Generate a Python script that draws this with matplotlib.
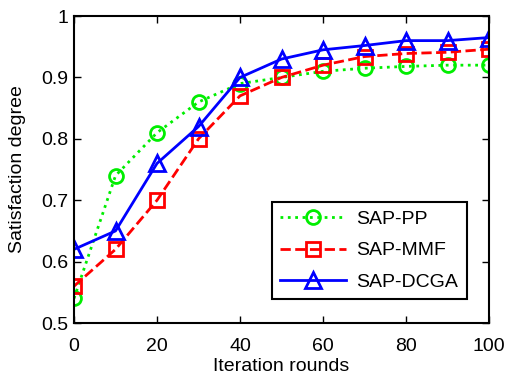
import matplotlib
matplotlib.use("Agg")
import matplotlib.pyplot as plt

plt.rcParams['font.family'] = ['Liberation Sans', 'DejaVu Sans']

rounds = [0, 10, 20, 30, 40, 50, 60, 70, 80, 90, 100]
sap_pp = [0.54, 0.74, 0.81, 0.86, 0.89, 0.90, 0.91, 0.915, 0.918, 0.92, 0.92]
sap_mmf = [0.56, 0.62, 0.70, 0.80, 0.87, 0.90, 0.92, 0.934, 0.939, 0.941, 0.946]
sap_dcga = [0.62, 0.65, 0.76, 0.82, 0.90, 0.93, 0.945, 0.952, 0.96, 0.96, 0.965]

fig = plt.figure(figsize=(5.07, 3.78), dpi=100)
ax = fig.add_axes([0.146, 0.1455, 0.8185, 0.812])

ax.plot(rounds, sap_pp, color='#00ee00', linestyle=':', linewidth=2, marker='o',
        markersize=10, markerfacecolor='none', markeredgewidth=2, label='SAP-PP')
ax.plot(rounds, sap_mmf, color='#ff0000', linestyle='--', linewidth=2, marker='s',
        markersize=10, markerfacecolor='none', markeredgewidth=2, label='SAP-MMF')
ax.plot(rounds, sap_dcga, color='#0000ff', linestyle='-', linewidth=2, marker='^',
        markersize=11, markerfacecolor='none', markeredgewidth=2, label='SAP-DCGA')

ax.set_xlim(0, 100)
ax.set_ylim(0.5, 1.0)
ax.set_xticks([0, 20, 40, 60, 80, 100])
ax.set_yticks([0.5, 0.6, 0.7, 0.8, 0.9, 1.0])
ax.set_yticklabels(['0.5', '0.6', '0.7', '0.8', '0.9', '1'])
ax.tick_params(direction='in', top=True, right=True, labelsize=14, length=5, width=1,
               pad=4)
ax.tick_params(axis='x', pad=11)
for s in ax.spines.values():
    s.set_linewidth(1.5)

ax.set_xlabel('Iteration rounds', fontsize=14, labelpad=2)
ax.set_ylabel('Satisfaction degree', fontsize=14, labelpad=11)

leg = ax.legend(loc='lower right', bbox_to_anchor=(0.97, 0.045), fontsize=14,
                frameon=True, fancybox=False, edgecolor='black', framealpha=1,
                handlelength=3.4, borderpad=0.45, labelspacing=0.7, handletextpad=0.5)
leg.get_frame().set_linewidth(1.5)

fig.savefig('out.png', dpi=100)
